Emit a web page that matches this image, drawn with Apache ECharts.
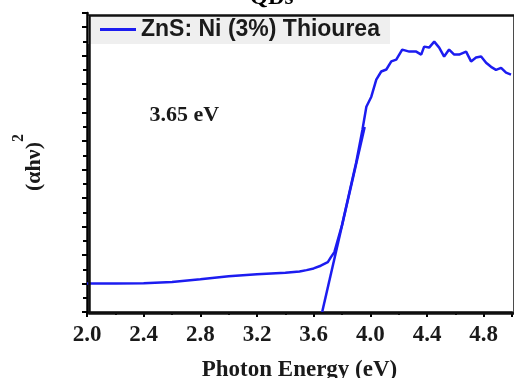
<!DOCTYPE html>
<html><head><meta charset="utf-8">
<script src="https://cdn.jsdelivr.net/npm/echarts@6/dist/echarts.min.js"></script>
<style>html,body{margin:0;padding:0;background:#fff}#c{width:514px;height:378px}</style>
</head><body><div id="c"></div>
<script>
const seriesName = 'ZnS: Ni (3%) Thiourea';
const energy = [2.0,2.2,2.4,2.6,2.8,3.0,3.2,3.4,3.5,3.55,3.6,3.65,3.7,3.723,3.746,3.8,3.85,3.9,3.944,3.972,4.007,4.042,4.077,4.113,4.148,4.183,4.225,4.275,4.324,4.359,4.38,4.415,4.451,4.486,4.521,4.556,4.592,4.627,4.676,4.711,4.746,4.782,4.817,4.852,4.887,4.923,4.958,4.993];
const absorb = [2.0,2.0,2.02,2.11,2.3,2.51,2.65,2.75,2.85,2.94,3.06,3.25,3.5,3.87,4.2,6.1,8.3,10.5,12.79,14.42,15.12,16.32,16.89,17.03,17.6,17.73,18.43,18.29,18.29,18.08,18.64,18.57,18.99,18.57,17.94,18.43,18.08,18.08,18.29,17.6,17.87,17.94,17.51,17.22,17.01,17.15,16.81,16.67];
const tangentX = [3.66, 3.96];
const tangentY = [0, 13.0];
const xTicks = ['2.0','2.4','2.8','3.2','3.6','4.0','4.4','4.8'];
const bandGap = '3.65 eV';

const blue = '#1c1cf0';
const serif = 'Liberation Serif';
const chart = echarts.init(document.getElementById('c'));
chart.setOption({
  animation: false,
  title: {
    text: 'QDs', left: 245, top: -18,
    textStyle: {fontFamily: serif, fontSize: 23, fontWeight: 'bold', color: '#000'}
  },
  grid: {left: 87, right: 2, top: 13, bottom: 66, outerBoundsMode: 'none', containLabel: false},
  legend: {
    left: 88, top: 16, padding: [2, 10, 3, 12],
    backgroundColor: '#efefef',
    itemWidth: 36, itemHeight: 3, itemGap: 4,
    data: [{name: seriesName, icon: 'rect'}],
    textStyle: {fontFamily: 'Liberation Sans', fontSize: 23, fontWeight: 'bold', color: '#1a1a1a'}
  },
  xAxis: {
    type: 'value', min: 2, max: 5, interval: 0.4,
    name: 'Photon Energy (eV)', nameLocation: 'middle', nameGap: 47,
    nameTextStyle: {fontFamily: serif, fontSize: 23, fontWeight: 'bold', color: '#1a1a1a'},
    axisLine: {lineStyle: {color: '#000', width: 2.5}},
    axisTick: {inside: false, length: 5, lineStyle: {color: '#000', width: 2}},
    minorTick: {show: true, splitNumber: 2, length: 3, lineStyle: {color: '#000', width: 2}},
    splitLine: {show: false},
    axisLabel: {
      showMaxLabel: false, margin: 12,
      fontFamily: serif, fontSize: 23, fontWeight: 'bold', color: '#1a1a1a',
      formatter: v => { const s = v.toFixed(1); return xTicks.indexOf(s) >= 0 ? s : ''; }
    }
  },
  yAxis: {
    type: 'value', min: 0, max: 21, interval: 2,
    name: '{a|(αhν)}{b|2}', nameLocation: 'middle', nameGap: 42,
    nameTextStyle: {
      color: '#1a1a1a',
      rich: {
        a: {fontFamily: serif, fontSize: 22, fontWeight: 'bold', lineHeight: 34, verticalAlign: 'bottom', color: '#1a1a1a'},
        b: {fontFamily: serif, fontSize: 16, fontWeight: 'bold', lineHeight: 16, verticalAlign: 'top', color: '#1a1a1a'}
      }
    },
    axisLine: {show: true, lineStyle: {color: '#000', width: 2.5}},
    axisTick: {show: true, inside: false, length: 5, lineStyle: {color: '#000', width: 2}},
    minorTick: {show: true, splitNumber: 2, length: 4, lineStyle: {color: '#000', width: 2}},
    splitLine: {show: false},
    axisLabel: {show: false}
  },
  graphic: [{
    type: 'rect', left: 87, top: 13, z: 100, silent: true,
    shape: {width: 425, height: 298},
    style: {fill: 'none', stroke: '#111', lineWidth: 2.5}
  }],
  series: [
    {
      name: seriesName, type: 'line', showSymbol: false, smooth: false,
      data: energy.map((e, i) => [e, absorb[i]]),
      lineStyle: {color: blue, width: 2.5}, itemStyle: {color: blue},
      markPoint: {
        symbol: 'rect', symbolSize: 1, itemStyle: {color: 'rgba(0,0,0,0)'},
        data: [{coord: [2.687, 13.8], value: bandGap,
          label: {show: true, formatter: bandGap, fontFamily: serif, fontSize: 22, fontWeight: 'bold', color: '#1a1a1a'}}]
      }
    },
    {
      name: 'tangent', type: 'line', showSymbol: false,
      data: tangentX.map((e, i) => [e, tangentY[i]]),
      lineStyle: {color: blue, width: 2.5}, itemStyle: {color: blue}
    }
  ]
});
</script></body></html>
